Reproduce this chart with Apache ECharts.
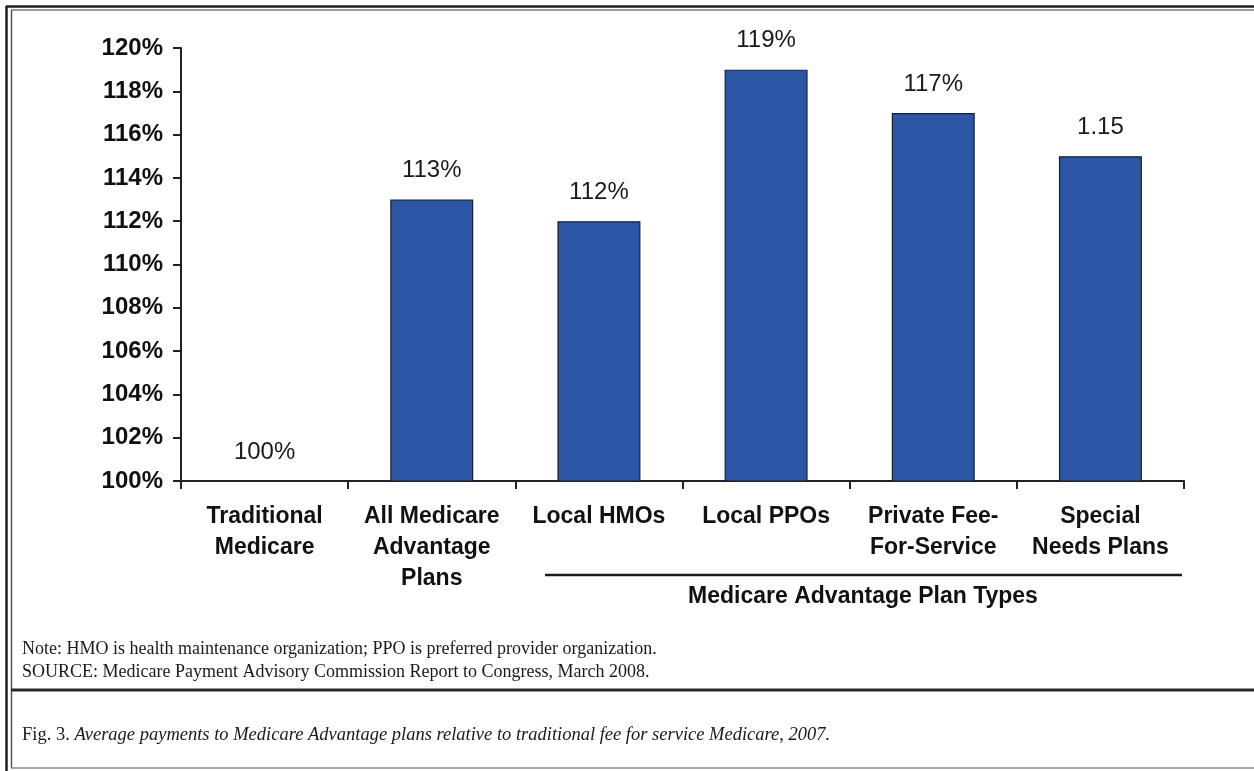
<!DOCTYPE html>
<html>
<head>
<meta charset="utf-8">
<title>Average payments to Medicare Advantage plans, 2007</title>
<script src="https://cdn.jsdelivr.net/npm/echarts@6/dist/echarts.min.js"></script>
<style>
  html, body { margin: 0; padding: 0; background: #ffffff; }
  #chart { width: 1254px; height: 771px; }
</style>
</head>
<body>
<div id="chart"></div>
<script>
// Plan categories along the x axis
const categories = [
  'Traditional\nMedicare',
  'All Medicare\nAdvantage\nPlans',
  'Local HMOs',
  'Local PPOs',
  'Private Fee-\nFor-Service',
  'Special\nNeeds Plans'
];

// Payment relative to traditional fee-for-service Medicare (1.00 = 100%)
const paymentRatio = [1.00, 1.13, 1.12, 1.19, 1.17, 1.15];

// How each bar's value label is written: as a percent or as the raw ratio
const labelStyle = ['percent', 'percent', 'percent', 'percent', 'percent', 'ratio'];

// Value axis range and step
const axisMin = 1.00;
const axisMax = 1.20;
const axisStep = 0.02;

const groupTitle = 'Medicare Advantage Plan Types';
const noteLine = 'Note: HMO is health maintenance organization; PPO is preferred provider organization.';
const sourceLine = 'SOURCE: Medicare Payment Advisory Commission Report to Congress, March 2008.';
const figLabel = 'Fig. 3. ';
const figCaption = 'Average payments to Medicare Advantage plans relative to traditional fee for service Medicare, 2007.';

const pct = v => Math.round(v * 100) + '%';

const chart = echarts.init(document.getElementById('chart'), null, { renderer: 'canvas' });

const sansBold = { fontFamily: 'Liberation Sans, Arial, sans-serif', fontWeight: 'bold', color: '#111' };
const serif = '"Liberation Serif", "Times New Roman", serif';

function hLine(x1, x2, y, w, c) {
  return { type: 'line', silent: true, shape: { x1, y1: y, x2, y2: y }, style: { stroke: c, lineWidth: w } };
}
function vLine(x, y1, y2, w, c) {
  return { type: 'line', silent: true, shape: { x1: x, y1, x2: x, y2 }, style: { stroke: c, lineWidth: w } };
}

chart.setOption({
  animation: false,
  backgroundColor: '#ffffff',
  grid: { left: 181, right: 70, top: 48, bottom: 290, containLabel: false },
  xAxis: {
    type: 'category',
    data: categories,
    axisLine: { lineStyle: { color: '#222', width: 2 } },
    axisTick: { show: true, length: 8, lineStyle: { color: '#222', width: 2 } },
    axisLabel: {
      ...sansBold, fontSize: 23, lineHeight: 31, margin: 20, interval: 0
    },
    splitLine: { show: false }
  },
  yAxis: {
    type: 'value',
    min: axisMin,
    max: axisMax,
    interval: axisStep,
    axisLine: { show: true, lineStyle: { color: '#222', width: 2 } },
    axisTick: { show: true, length: 8, lineStyle: { color: '#222', width: 2 } },
    axisLabel: { ...sansBold, fontSize: 24, margin: 18, formatter: v => pct(v) },
    splitLine: { show: false }
  },
  series: [
    {
      type: 'bar',
      data: paymentRatio,
      barWidth: 83,
      itemStyle: { color: '#2b56a5', borderColor: '#1c1f2a', borderWidth: 1.2 },
      label: { show: false }
    },
    {
      // value labels sit just above each bar top (including the zero-height baseline bar)
      type: 'scatter',
      data: paymentRatio,
      symbolSize: 0,
      silent: true,
      z: 5,
      itemStyle: { opacity: 1, color: '#1a1a1a' },
      label: {
        show: true,
        position: 'top',
        distance: 17,
        opacity: 1,
        fontFamily: 'Liberation Sans, Arial, sans-serif',
        fontSize: 24,
        color: '#1a1a1a',
        formatter: p => labelStyle[p.dataIndex] === 'ratio' ? p.value.toFixed(2) : pct(p.value)
      }
    }
  ],
  graphic: [
    // page frame
    hLine(6, 1254, 6.5, 2.5, '#1e1e1e'),
    hLine(11, 1254, 10, 1.5, '#7a7a7a'),
    vLine(6.5, 6, 771, 2.5, '#1e1e1e'),
    vLine(11.5, 10, 768, 1.5, '#555'),
    hLine(11, 1254, 690, 3, '#2a2a2a'),
    hLine(11, 1254, 768, 1.5, '#8a8a8a'),
    // bracket under the plan-type categories
    hLine(545, 1182, 575, 2.5, '#1a1a1a'),
    {
      type: 'text', silent: true, x: 863, y: 597,
      style: { text: groupTitle, fill: '#111', align: 'center', verticalAlign: 'middle',
               font: 'bold 23px "Liberation Sans", Arial, sans-serif' }
    },
    // notes
    {
      type: 'text', silent: true, x: 22, y: 649,
      style: { text: noteLine, fill: '#1a1a1a', font: '18px ' + serif, verticalAlign: 'middle' }
    },
    {
      type: 'text', silent: true, x: 22, y: 672,
      style: { text: sourceLine, fill: '#1a1a1a', font: '18px ' + serif, verticalAlign: 'middle' }
    },
    // figure caption
    {
      type: 'text', silent: true, x: 22, y: 735,
      style: {
        text: '{a|' + figLabel + '}{b|' + figCaption + '}',
        verticalAlign: 'middle',
        rich: {
          a: { font: '18.5px ' + serif, fill: '#1a1a1a' },
          b: { font: 'italic 18.5px ' + serif, fill: '#1a1a1a' }
        }
      }
    }
  ]
});
</script>
</body>
</html>
